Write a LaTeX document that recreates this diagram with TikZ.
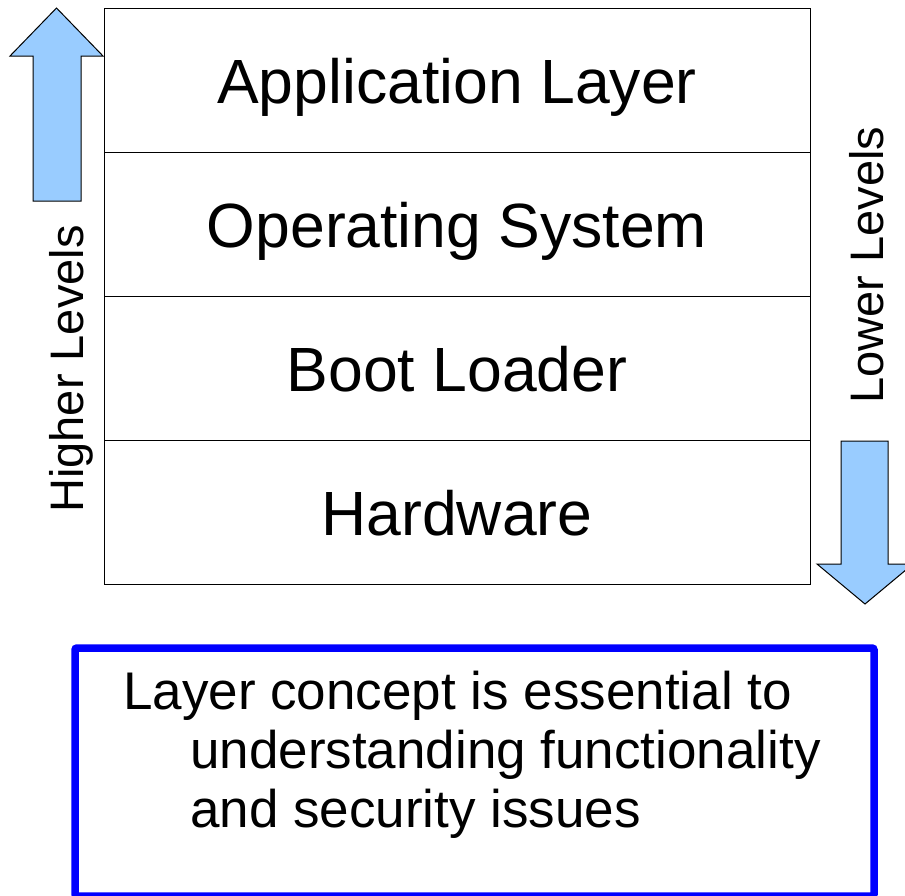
\documentclass[tikz,border=0pt]{standalone}
\usepackage{fontspec}
\setmainfont{Liberation Sans}
\definecolor{arrowblue}{HTML}{99CCFF}
\definecolor{noteblue}{HTML}{0000FF}
\begin{document}
\begin{tikzpicture}[x=1pt,y=-1pt,
  layer/.style={draw=black, line width=1pt, minimum width=706pt, minimum height=144pt,
    inner sep=0pt, text height=72pt, text depth=26pt, font=\fontsize{62.5}{62.5}\selectfont},
  bigarrow/.style={draw=black, line width=1pt, fill=arrowblue, line join=miter},
  sidelabel/.style={rotate=90, anchor=base, inner sep=0pt, font=\fontsize{47}{47}\selectfont},
  notebox/.style={draw=noteblue, line width=7.5pt, rounded corners=2pt, inner sep=0pt,
    minimum width=799pt, minimum height=248pt},
  notetext/.style={anchor=base west, inner sep=0pt, font=\fontsize{53}{53}\selectfont}]
\useasboundingbox (0,0) rectangle (905,895);
% layer stack
\node[layer] (app) at (457,80) {Application Layer};
\node[layer] (os) at (457,224) {Operating System};
\node[layer] (boot) at (457,368) {Boot Loader};
\node[layer] (hw) at (457,512) {Hardware};
% arrows
\draw[bigarrow] (33,201) -- (33,56) -- (10,56) -- (56.5,8) -- (103,56) -- (81,56) -- (81,201) -- cycle;
\draw[bigarrow] (841,441) -- (888,441) -- (888,564) -- (913,564) -- (865,604) -- (817,564) -- (841,564) -- cycle;
% side labels
\node[sidelabel] (higher) at (83,369) {Higher Levels};
\node[sidelabel] (lower) at (883,265) {Lower Levels};
% note
\node[notebox] (note) at (474.5,772) {};
\node[notetext] (l1) at (123,709) {Layer concept is essential to};
\node[notetext] (l2) at (190,768) {understanding functionality};
\node[notetext] (l3) at (190,827) {and security issues};
\end{tikzpicture}
\end{document}
